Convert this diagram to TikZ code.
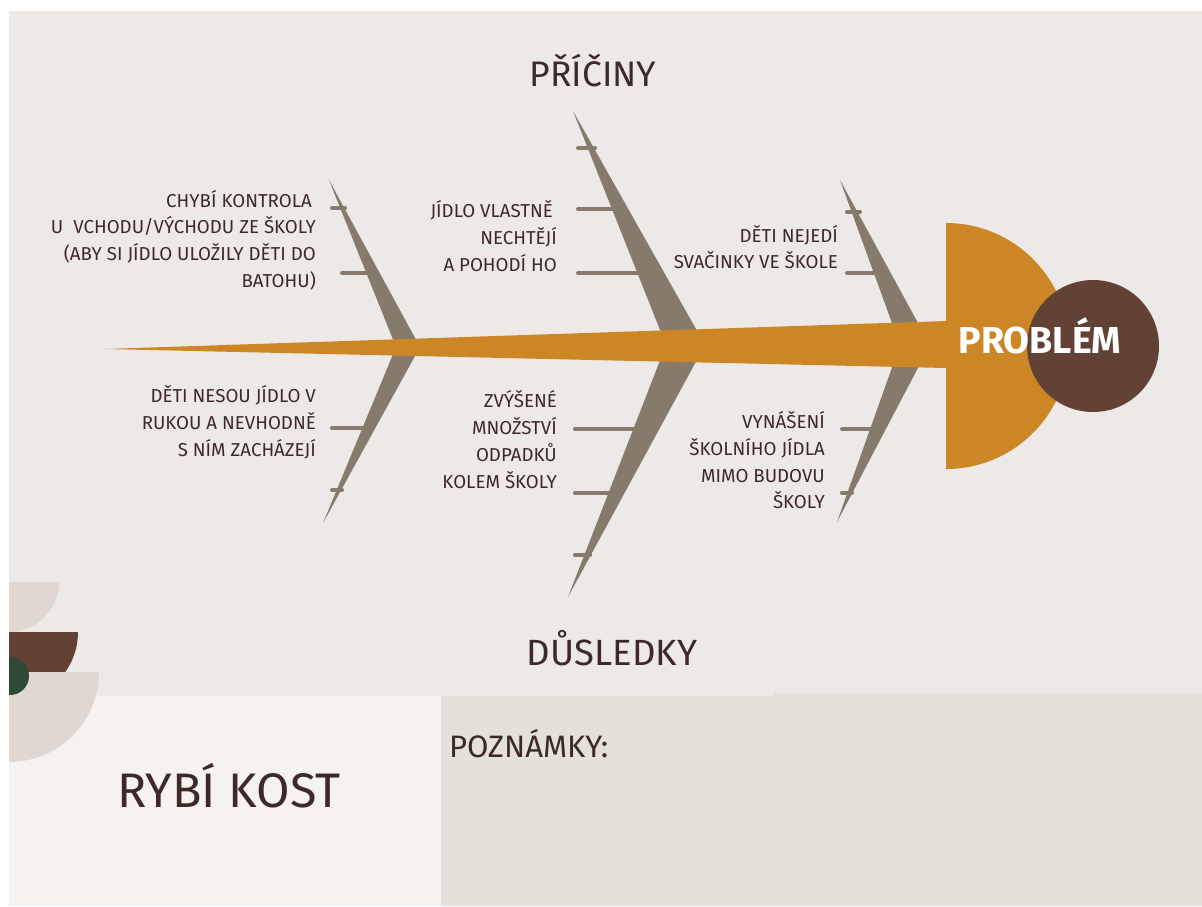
\documentclass[tikz,border=0pt]{standalone}
\usepackage{fontspec}
\setmainfont{Fira Sans}
\definecolor{bgmain}{HTML}{EDE9E6}
\definecolor{panelL}{HTML}{F5F2EF}
\definecolor{panelR}{HTML}{E4E0DA}
\definecolor{orng}{HTML}{CD8626}
\definecolor{brwn}{HTML}{634236}
\definecolor{bone}{HTML}{857A6B}
\definecolor{txt}{HTML}{3D2A26}
\definecolor{decor}{HTML}{E0D8D0}
\definecolor{grn}{HTML}{2E4A36}
\begin{document}
\begin{tikzpicture}[x=1pt,y=-1pt,
  lbl/.style={anchor=base east, inner sep=0pt, text=txt, font=\fontsize{18.7}{22}\selectfont},
  ttl/.style={anchor=base, inner sep=0pt, text=txt, font=\fontsize{35.5}{42}\selectfont},
  tick/.style={draw=bone, line width=4pt, line cap=round},
  bonefill/.style={fill=bone}]
\useasboundingbox (0,0) rectangle (1202,906);
\fill[white] (0,0) rectangle (1202,906);
\fill[bgmain] (9,11) rectangle (1202,906);
\fill[panelL] (9,696) rectangle (441,906);
\fill[panelR] (441,696) -- (774,696) -- (774,693) -- (1202,693) -- (1202,906) -- (441,906) -- cycle;
% decorations
\begin{scope}
\clip (9,0) rectangle (1202,906);
\fill[decor] (9,582) -- (59,582) arc[start angle=0,end angle=90,radius=50] -- cycle;
\fill[brwn] (9,632) -- (78,632) arc[start angle=0,end angle=90,radius=69] -- cycle;
\fill[decor] (9,672) -- (99,672) arc[start angle=0,end angle=90,radius=90] -- cycle;
\fill[grn] (10,676) circle[radius=19];
\end{scope}
% bones
\fill[bonefill] (329,180) -- (420,347) -- (323,523) -- (396,347) -- cycle;
\fill[bonefill] (573,111) -- (705,345) -- (568,597) -- (666,345) -- cycle;
\fill[bonefill] (840,180) -- (930,345) -- (837,522) -- (900,345) -- cycle;
% ticks
\draw[tick] (332,208) -- (345,208);
\draw[tick] (342,273) -- (370,273);
\draw[tick] (332,428) -- (368,428);
\draw[tick] (332,490) -- (342,490);
\draw[tick] (578,148) -- (595,148);
\draw[tick] (578,209) -- (620,209);
\draw[tick] (578,273) -- (645,273);
\draw[tick] (575,429) -- (640,429);
\draw[tick] (575,493) -- (615,493);
\draw[tick] (575,555) -- (590,555);
\draw[tick] (847,212) -- (860,212);
\draw[tick] (847,273) -- (880,273);
\draw[tick] (842,429) -- (878,429);
\draw[tick] (842,493) -- (852,493);
% spine and head
\fill[orng] (105,349) -- (946,321) -- (946,368) -- cycle;
\fill[orng] (946,223) arc[start angle=-90,end angle=90,radius=123] -- cycle;
\fill[brwn] (1093,346) circle[radius=66];
\node[anchor=base, inner sep=0pt, text=white, font=\fontsize{37.5}{42}\selectfont\bfseries] (prob) at (1040,353) {PROBLÉM};
% titles
\node[ttl] (pric) at (593,86) {PŘÍČINY};
\node[ttl, font=\fontsize{36.5}{42}\selectfont] (dusl) at (612,665) {DŮSLEDKY};
\node[anchor=base west, inner sep=0pt, text=txt, font=\fontsize{31}{36}\selectfont] (pozn) at (449,757) {POZNÁMKY:};
\node[anchor=base, inner sep=0pt, text=txt, font=\fontsize{48.5}{56}\selectfont] (ryb) at (229,807) {RYBÍ KOST};
% block 1
\node[lbl] (a1) at (316,207) {CHYBÍ KONTROLA\hspace*{4pt}};
\node[lbl] (a2) at (316,233) {U~ VCHODU/VÝCHODU ZE ŠKOLY};
\node[lbl] (a3) at (316,260) {(ABY SI JÍDLO ULOŽILY DĚTI DO};
\node[lbl] (a4) at (316,287) {BATOHU)};
% block 2
\node[lbl] (b1) at (316,402) {DĚTI NESOU JÍDLO V};
\node[lbl] (b2) at (316,429) {RUKOU A NEVHODNĚ};
\node[lbl] (b3) at (316,456) {S NÍM ZACHÁZEJÍ};
% block 3
\node[lbl] (c1) at (557,217) {JÍDLO VLASTNĚ\hspace*{4pt}};
\node[lbl] (c2) at (557,244) {NECHTĚJÍ};
\node[lbl] (c3) at (557,271) {A POHODÍ HO};
% block 4
\node[lbl] (d1) at (557,407) {ZVÝŠENÉ};
\node[lbl] (d2) at (557,434) {MNOŽSTVÍ};
\node[lbl] (d3) at (557,461) {ODPADKŮ};
\node[lbl] (d4) at (557,488) {KOLEM ŠKOLY};
% block 5
\node[lbl] (e1) at (838,242) {DĚTI NEJEDÍ};
\node[lbl] (e2) at (838,268) {SVAČINKY VE ŠKOLE};
% block 6
\node[lbl] (f1) at (825,428) {VYNÁŠENÍ};
\node[lbl] (f2) at (825,455) {ŠKOLNÍHO JÍDLA};
\node[lbl] (f3) at (825,482) {MIMO BUDOVU};
\node[lbl] (f4) at (825,508) {ŠKOLY};
\end{tikzpicture}
\end{document}
